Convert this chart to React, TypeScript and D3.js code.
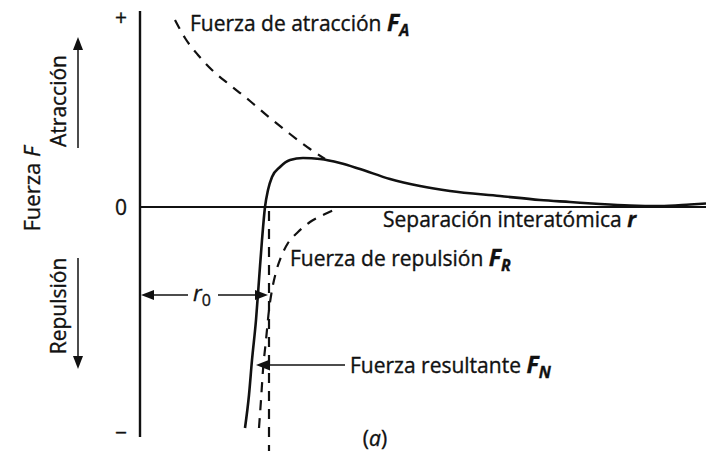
import React from 'react';
import * as d3 from 'd3';

const W = 706;
const H = 451;

// Interatomic force curves: r = separation (arbitrary units), F = force (arbitrary units)
const attractionForce: [number, number][] = [
  [0.35, 1.87], [0.45, 1.69], [0.58, 1.52], [0.72, 1.37], [0.9, 1.22],
  [1.1, 1.06], [1.3, 0.89], [1.5, 0.73], [1.7, 0.58], [1.85, 0.48],
];

const netForce: [number, number][] = [
  [1.05, -2.21], [1.09, -1.88], [1.12, -1.53], [1.16, -1.13], [1.19, -0.73],
  [1.22, -0.33], [1.25, 0], [1.28, 0.17], [1.32, 0.3], [1.4, 0.4],
  [1.5, 0.47], [1.63, 0.49], [1.8, 0.48], [2.0, 0.44], [2.2, 0.38],
  [2.5, 0.28], [2.8, 0.21], [3.1, 0.16], [3.6, 0.11], [4.0, 0.07],
  [4.3, 0.05], [4.6, 0.03], [4.9, 0.015], [5.2, 0.01], [5.5, 0.025], [5.66, 0.035],
];

const repulsionForce: [number, number][] = [
  [1.19, -2.21], [1.21, -1.93], [1.23, -1.63], [1.26, -1.33], [1.29, -1.03],
  [1.32, -0.83], [1.36, -0.65], [1.41, -0.5], [1.48, -0.36], [1.58, -0.25],
  [1.7, -0.15], [1.85, -0.07], [1.98, -0.01],
];

const equilibriumSeparation = 1.29;
const forceTicks = [
  { value: 1.9, label: '+' },
  { value: 0, label: '0' },
  { value: -2.25, label: '−' },
];

const FONT = "'Open Sans', 'Noto Sans', sans-serif";
const INK = '#111';
const FS = 21;
const SYM = 23;
const SUB = 16;

export default function App() {
  const x = d3.scaleLinear().domain([0, 5.66]).range([140, 706]);
  const y = d3.scaleLinear().domain([-2.3, 1.9]).range([437, 17]);

  const line = d3
    .line<[number, number]>()
    .x((d) => x(d[0]))
    .y((d) => y(d[1]))
    .curve(d3.curveMonotoneX);

  const sorted = (arr: [number, number][]) => [...arr].sort((a, b) => a[0] - b[0]);

  const x0 = x(0);
  const y0 = y(0);
  const xr0 = x(equilibriumSeparation);
  const yR0 = 295;
  const yFN = 365;

  const tri = (tx: number, ty: number, dir: 'up' | 'down' | 'left' | 'right', len = 13, half = 5) => {
    if (dir === 'up') return `M${tx},${ty}L${tx - half},${ty + len}L${tx + half},${ty + len}Z`;
    if (dir === 'down') return `M${tx},${ty}L${tx - half},${ty - len}L${tx + half},${ty - len}Z`;
    if (dir === 'left') return `M${tx},${ty}L${tx + len},${ty - half}L${tx + len},${ty + half}Z`;
    return `M${tx},${ty}L${tx - len},${ty - half}L${tx - len},${ty + half}Z`;
  };

  const textInk = { fill: INK, stroke: INK, strokeWidth: 0.35 };

  return (
    <svg
      width={W}
      height={H}
      viewBox={`0 0 ${W} ${H}`}
      style={{ position: 'fixed', left: 0, top: 0, background: '#fff' }}
      fontFamily={FONT}
      fill={INK}
    >
      <rect width={W} height={H} fill="#fff" />

      {/* force axis */}
      <line x1={x0} x2={x0} y1={y(1.96)} y2={y(-2.3)} stroke={INK} strokeWidth={2.4} />
      {/* zero-force line */}
      <line x1={x0} x2={W} y1={y0} y2={y0} stroke={INK} strokeWidth={2} />

      {forceTicks.map((t) => (
        <text
          key={t.label}
          x={121}
          y={y(t.value)}
          fontSize={21}
          textAnchor="middle"
          dominantBaseline="central"
          {...textInk}
        >
          {t.label}
        </text>
      ))}

      {/* curves */}
      <path d={line(sorted(attractionForce)) || ''} fill="none" stroke={INK} strokeWidth={2.2} strokeDasharray="10 8" />
      <path d={line(sorted(repulsionForce)) || ''} fill="none" stroke={INK} strokeWidth={2.2} strokeDasharray="10 8" />
      <line x1={xr0} x2={xr0} y1={y(-0.04)} y2={H} stroke={INK} strokeWidth={2.2} strokeDasharray="10 8" />
      <path d={line(netForce) || ''} fill="none" stroke={INK} strokeWidth={2.6} />

      {/* r0 dimension */}
      <line x1={x0 + 12} x2={188} y1={yR0} y2={yR0} stroke={INK} strokeWidth={1.5} />
      <line x1={218} x2={xr0 - 12} y1={yR0} y2={yR0} stroke={INK} strokeWidth={1.5} />
      <path d={tri(x0 + 1, yR0, 'left')} />
      <path d={tri(xr0 - 1, yR0, 'right')} />
      <text x={193} y={yR0 + 6} fontSize={22} fontStyle="italic" {...textInk}>
        r<tspan fontSize={SUB} fontStyle="normal" dy={5}>0</tspan>
      </text>

      {/* net force pointer */}
      <line x1={268} x2={345} y1={yFN} y2={yFN} stroke={INK} strokeWidth={1.5} />
      <path d={tri(256, yFN, 'left', 14, 5.5)} />

      {/* curve labels */}
      <text x={190} y={31} fontSize={FS} {...textInk}>
        Fuerza de atracción{' '}
        <tspan fontStyle="italic" fontWeight="bold" fontSize={SYM}>F</tspan>
        <tspan fontStyle="italic" fontWeight="bold" fontSize={SUB} dy={5}>A</tspan>
      </text>
      <text x={383} y={227} fontSize={FS} {...textInk}>
        Separación interatómica{' '}
        <tspan fontStyle="italic" fontWeight="bold">r</tspan>
      </text>
      <text x={290} y={266} fontSize={FS} {...textInk}>
        Fuerza de repulsión{' '}
        <tspan fontStyle="italic" fontWeight="bold" fontSize={SYM}>F</tspan>
        <tspan fontStyle="italic" fontWeight="bold" fontSize={SUB} dy={5}>R</tspan>
      </text>
      <text x={350} y={373} fontSize={FS} {...textInk}>
        Fuerza resultante{'  '}
        <tspan fontStyle="italic" fontWeight="bold" fontSize={SYM}>F</tspan>
        <tspan fontStyle="italic" fontWeight="bold" fontSize={SUB} dy={5}>N</tspan>
      </text>
      <text x={375} y={446} fontSize={FS} textAnchor="middle" {...textInk}>
        (<tspan fontStyle="italic">a</tspan>)
      </text>

      {/* vertical axis captions */}
      <text transform="translate(40,189) rotate(-90)" fontSize={22} textAnchor="middle" {...textInk}>
        Fuerza <tspan fontStyle="italic">F</tspan>
      </text>
      <text transform="translate(66,101) rotate(-90)" fontSize={FS} textAnchor="middle" {...textInk}>
        Atracción
      </text>
      <text transform="translate(66,306) rotate(-90)" fontSize={FS} textAnchor="middle" {...textInk}>
        Repulsión
      </text>

      {/* direction arrows */}
      <line x1={78} x2={78} y1={148} y2={50} stroke={INK} strokeWidth={1.5} />
      <path d={tri(78, 37, 'up')} />
      <line x1={78} x2={78} y1={258} y2={356} stroke={INK} strokeWidth={1.5} />
      <path d={tri(78, 369, 'down')} />
    </svg>
  );
}
